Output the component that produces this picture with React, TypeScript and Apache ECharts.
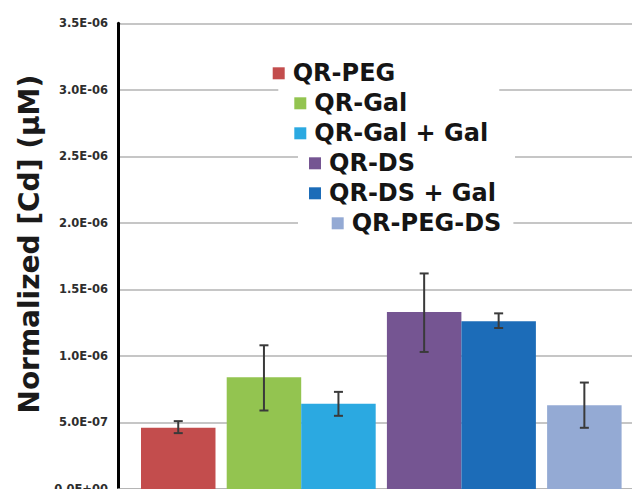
import React, { useEffect, useRef } from 'react';
import * as echarts from 'echarts';

// ---- data ----
const seriesNames = ['QR-PEG', 'QR-Gal', 'QR-Gal + Gal', 'QR-DS', 'QR-DS + Gal', 'QR-PEG-DS'];
const seriesColors = ['#C34D4D', '#93C450', '#2BA9E1', '#755592', '#1C6CB8', '#94AAD4'];
const meanValues = [4.6e-7, 8.4e-7, 6.4e-7, 1.33e-6, 1.26e-6, 6.3e-7];
const errorLow = [4.2e-7, 5.9e-7, 5.5e-7, 1.03e-6, 1.21e-6, 4.6e-7];
const errorHigh = [5.1e-7, 1.08e-6, 7.3e-7, 1.62e-6, 1.32e-6, 8.0e-7];
const groupCategories = ['G1', 'G2', 'G3', 'G4'];
const groupOfSeries = [0, 1, 1, 2, 2, 3];
const sideOfSeries = [1, -1, 1, -1, 1, -1];
const yMin = 0;
const yMax = 3.5e-6;
const yInterval = 0.5e-6;
const yTitle = 'Normalized [Cd] (\u03BCM)';

const FONT = "'DejaVu Sans', 'Liberation Sans', Arial, sans-serif";
const CAT_GAP = 0.07;

function sci(v: number): string {
  const s = v.toExponential(1);
  const [m, ex] = s.split('e');
  const n = parseInt(ex, 10);
  return m + 'E' + (n < 0 ? '-' : '+') + String(Math.abs(n)).padStart(2, '0');
}

export default function App() {
  const ref = useRef<HTMLDivElement>(null);
  useEffect(() => {
    if (!ref.current) return;
    const chart = echarts.init(ref.current, undefined, { renderer: 'svg' });

    // left-slot series first so the left stack is laid out first
    const order = [1, 0, 2, 3, 4, 5];
    const barSeries = order.map((i) => ({
      name: seriesNames[i],
      type: 'bar',
      xAxisIndex: 1,
      yAxisIndex: 1,
      stack: sideOfSeries[i] < 0 ? 'L' : 'R',
      barGap: '0%',
      barCategoryGap: CAT_GAP * 100 + '%',
      itemStyle: { color: seriesColors[i] },
      data: groupCategories.map((_, g) => (g === groupOfSeries[i] ? meanValues[i] : '-')),
      z: 2,
    }));

    const errData = seriesNames.map((_, i) => [groupOfSeries[i], errorLow[i], errorHigh[i], sideOfSeries[i]]);

    const legendRows = [
      { left: 268.7, top: 59.3, padding: [2, 4, 2, 4] },
      { left: 278.3, top: 85.3, padding: [6, 92, 2, 16] },
      { left: 290.3, top: 119.3, padding: [2, 4, 2, 4] },
      { left: 298, top: 149.3, padding: [2, 100, 2, 11] },
      { left: 305, top: 179.3, padding: [2, 4, 2, 4] },
      { left: 298, top: 209.3, padding: [2, 12, 2, 33.7] },
    ];

    const legends = seriesNames.map((name, i) => ({
      data: [name],
      left: legendRows[i].left,
      top: legendRows[i].top,
      padding: legendRows[i].padding,
      backgroundColor: '#ffffff',
      icon: 'rect',
      itemWidth: 12,
      itemHeight: 12,
      selectedMode: false,
      textStyle: {
        fontFamily: FONT,
        fontWeight: 'bold',
        fontSize: 24,
        lineHeight: 24,
        color: '#151515',
        padding: [0, 0, 0, 3],
      },
    }));

    chart.setOption({
      animation: false,
      backgroundColor: '#ffffff',
      legend: legends,
      grid: [
        { left: 118, right: 78, top: 23.3, bottom: 0, outerBoundsMode: 'none', containLabel: false },
        { left: 60.9, right: 8.3, top: 23.3, bottom: 0, outerBoundsMode: 'none', containLabel: false },
      ],
      xAxis: [
        {
          gridIndex: 0,
          type: 'category',
          data: [''],
          axisLine: { show: true, lineStyle: { color: '#b0b0b0', width: 1.5 } },
          axisTick: { show: false },
          axisLabel: { show: false },
          splitLine: { show: false },
        },
        {
          gridIndex: 1,
          type: 'category',
          data: groupCategories,
          show: false,
        },
      ],
      yAxis: [
        {
          gridIndex: 0,
          type: 'value',
          min: yMin,
          max: yMax,
          interval: yInterval,
          name: yTitle,
          nameLocation: 'middle',
          nameGap: 72,
          nameTextStyle: {
            fontFamily: FONT,
            fontWeight: 'bold',
            fontSize: 28,
            color: '#1a1a1a',
            padding: [0, 0, 0, 24],
          },
          axisLine: { show: true, lineStyle: { color: '#000000', width: 3 } },
          axisTick: { show: false },
          axisLabel: {
            formatter: (v: number) => sci(v),
            fontFamily: FONT,
            fontWeight: 'bold',
            fontSize: 11.5,
            color: '#2e2e2e',
            margin: 10,
          },
          splitLine: { show: true, lineStyle: { color: '#b3b3b3', width: 1.5 } },
        },
        {
          gridIndex: 1,
          type: 'value',
          min: yMin,
          max: yMax,
          interval: yInterval,
          show: false,
          splitLine: { show: false },
        },
      ],
      series: [
        ...barSeries,
        {
          name: 'error',
          type: 'custom',
          xAxisIndex: 1,
          yAxisIndex: 1,
          z: 5,
          clip: false,
          encode: { x: 0, y: [1, 2] },
          data: errData,
          renderItem: (params: any, api: any) => {
            const g = api.value(0);
            const lo = api.coord([g, api.value(1)]);
            const hi = api.coord([g, api.value(2)]);
            const band = api.size([1, 0])[0];
            const barW = (band * (1 - CAT_GAP)) / 2;
            const x = lo[0] + (api.value(3) * barW) / 2;
            const cap = 4.5;
            const style = { stroke: '#3a3a3a', lineWidth: 2 };
            return {
              type: 'group',
              children: [
                { type: 'line', shape: { x1: x, y1: hi[1], x2: x, y2: lo[1] }, style },
                { type: 'line', shape: { x1: x - cap, y1: hi[1], x2: x + cap, y2: hi[1] }, style },
                { type: 'line', shape: { x1: x - cap, y1: lo[1], x2: x + cap, y2: lo[1] }, style },
              ],
            };
          },
        },
      ],
    });
    return () => chart.dispose();
  }, []);

  return (
    <div
      style={{
        position: 'absolute',
        left: 0,
        top: 0,
        width: 632,
        height: 489,
        overflow: 'hidden',
        background: '#ffffff',
      }}
    >
      <div ref={ref} style={{ width: 710, height: 489 }} />
    </div>
  );
}
